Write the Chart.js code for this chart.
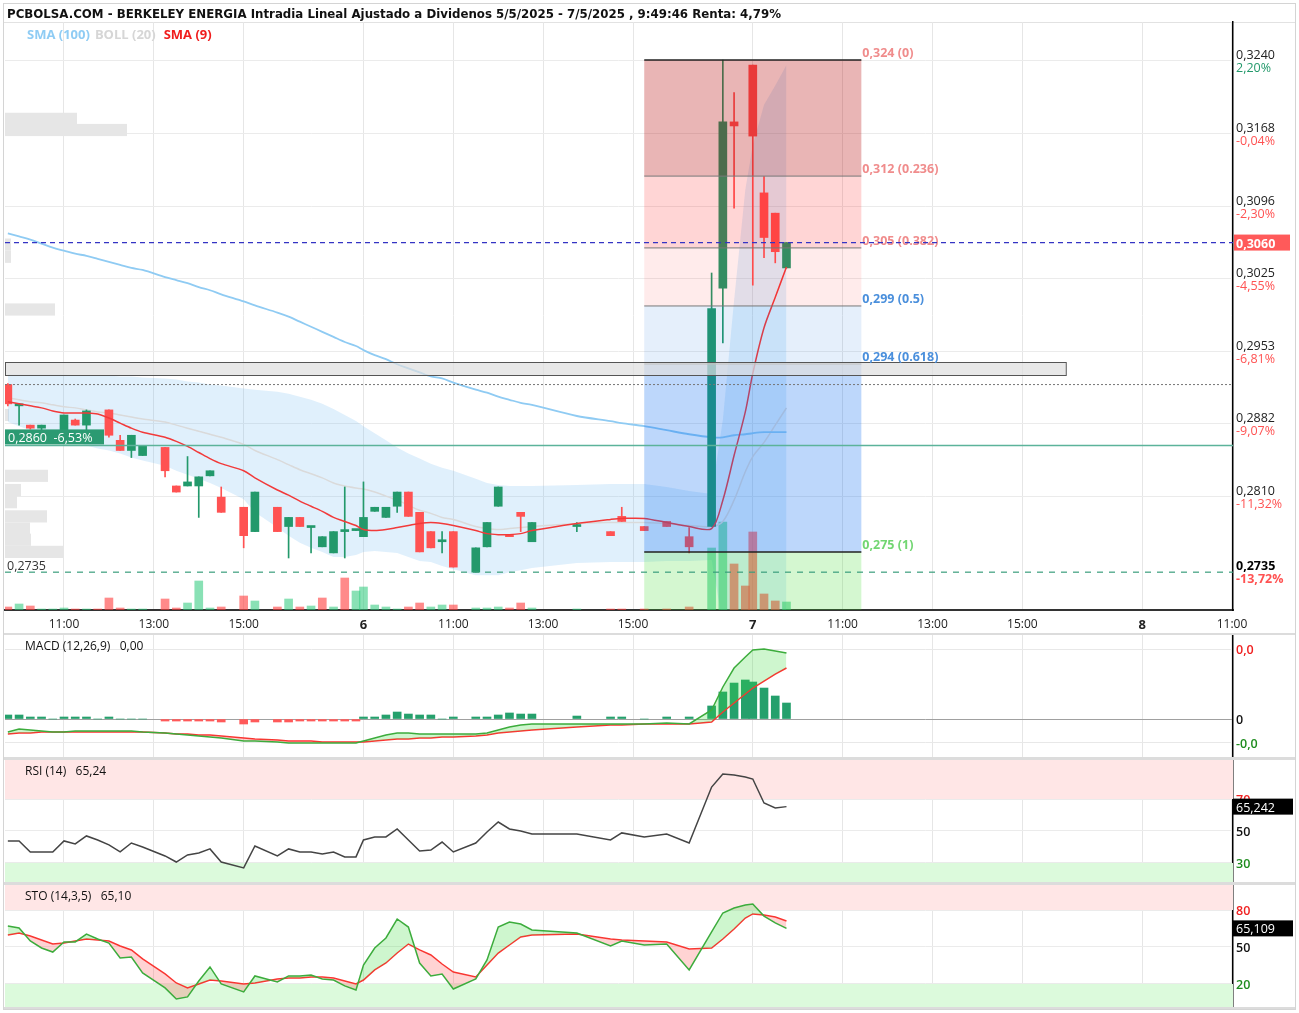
<!DOCTYPE html>
<html lang="es">
<head>
<meta charset="utf-8">
<title>Berkeley Energia intradía</title>
<script src="https://cdn.jsdelivr.net/npm/chart.js@4.4.1/dist/chart.umd.min.js"></script>
<style>
  body { margin: 0; background: #fff; font-family: 'Open Sans', sans-serif; }
  #lienzo { position: relative; width: 1299px; height: 1013px; overflow: hidden; }
  #lienzo canvas { position: absolute; left: 0; }
  .marco { position: absolute; left: 3px; top: 3px; width: 1291px; height: 1005px; border: 1px solid #d4d4d4; }
  .sep { position: absolute; left: 4px; width: 1291px; background: #dcdcdc; }
  .texto { position: absolute; white-space: pre; font-size: 12px; line-height: 16px; color: #111; z-index: 2; }
</style>
</head>
<body>
<div id="lienzo">
  <div class="marco"></div>
  <div class="texto" style="left:7px;top:6px;font-weight:bold;font-family:'DejaVu Sans',sans-serif;font-size:11.8px">PCBOLSA.COM - BERKELEY ENERGIA Intradia Lineal Ajustado a Dividenos 5/5/2025 - 7/5/2025 , 9:49:46 Renta: 4,79%</div>
  <div class="sep" style="top:22px;height:1px;background:#e2e2e2"></div>
  <canvas id="precio" width="1299" height="635" style="top:0"></canvas>
  <div class="texto" style="left:27px;top:26px;font-weight:bold;font-size:13px"><span style="color:#8fccf4;margin-right:5px">SMA (100)</span><span style="color:#d6d6d6;margin-right:8px">BOLL (20)</span><span style="color:#f01e1e">SMA (9)</span></div>
  <div class="sep" style="top:633px;height:2px"></div>
  <canvas id="macd" width="1299" height="122" style="top:635px"></canvas>
  <div class="texto" style="left:25px;top:638px">MACD (12,26,9)   0,00</div>
  <div class="sep" style="top:757px;height:3px"></div>
  <canvas id="rsi" width="1299" height="122" style="top:760px"></canvas>
  <div class="texto" style="left:25px;top:763px">RSI (14)   65,24</div>
  <div class="sep" style="top:882px;height:3px"></div>
  <canvas id="sto" width="1299" height="122" style="top:885px"></canvas>
  <div class="texto" style="left:25px;top:888px">STO (14,3,5)   65,10</div>
  <div class="sep" style="top:1007px;height:2px"></div>
</div>
<script>
// minutos de sesion (9:00-17:40, 520 min por dia) contados desde las 9:00 del dia 5
const tiempos = [45, 60, 75, 90, 105, 120, 135, 150, 165, 180,
  195, 210, 225, 255, 270, 285, 300, 315, 330, 360,
  375, 405, 420, 435, 450, 465, 480, 495, 510, 520,
  535, 550, 565, 580, 595, 610, 625, 640, 670, 685,
  700, 715, 730, 745, 805, 850, 865, 895, 925, 955,
  985, 1000, 1015, 1030, 1040, 1055, 1070, 1085];

const apertura = [.2920, .2899, .2880, .2877, .2865, .2872, .2885, .2880, .2870, .2895,
  .2865, .2855, .2850, .2858, .2820, .2820, .2820, .2830, .2809, .2799,
  .2775, .2799, .2780, .2789, .2779, .2760, .2754, .2775, .2776, .2770,
  .2795, .2789, .2800, .2814, .2794, .2775, .2765, .2775, .2735, .2760,
  .2800, .2772, .2794, .2765, .2780, .2775, .2790, .2780, .2785, .2770,
  .2780, .3015, .3179, null, .3235, .3109, .3089, .3035];
const maximo = [.2921, .2901, .2880, .2880, .2870, .2890, .2886, .2895, .2872, .2895,
  .2870, .2870, .2860, .2858, .2820, .2849, .2829, .2835, .2819, .2799,
  .2814, .2799, .2789, .2789, .2780, .2770, .2775, .2819, .2777, .2824,
  .2799, .2799, .2814, .2814, .2794, .2775, .2775, .2775, .2759, .2784,
  .2819, .2772, .2794, .2784, .2784, .2775, .2799, .2780, .2785, .2779,
  .3030, .3240, .3208, null, .3235, .3125, .3089, .3060];
const minimo = [.2899, .2880, .2876, .2875, .2862, .2870, .2880, .2870, .2862, .2868,
  .2855, .2848, .2850, .2829, .2814, .2820, .2789, .2830, .2794, .2759,
  .2775, .2775, .2749, .2780, .2754, .2760, .2754, .2749, .2776, .2770,
  .2795, .2789, .2794, .2790, .2755, .2759, .2754, .2740, .2735, .2760,
  .2800, .2770, .2775, .2765, .2775, .2771, .2785, .2776, .2780, .2754,
  .2780, .2961, .3094, null, .3018, .3045, .3040, .3035];
const cierre = [.2901, .2900, .2877, .2880, .2868, .2890, .2880, .2894, .2866, .2870,
  .2855, .2870, .2860, .2835, .2814, .2824, .2829, .2835, .2794, .2771,
  .2814, .2775, .2789, .2780, .2780, .2770, .2775, .2776, .2777, .2789,
  .2799, .2799, .2814, .2790, .2755, .2759, .2766, .2740, .2759, .2784,
  .2819, .2770, .2790, .2784, .2781, .2771, .2785, .2776, .2780, .2760,
  .2995, .3179, .3175, null, .3165, .3065, .3051, .3060];
// volumen en miles de titulos y si la barra es alcista (1) o bajista (0)
const volumen = [3, 6, 4, 1, 1, 2, 1, 1, 1, 12,
  2, 1, 1, 11, 2, 7, 29, 2, 3, 14,
  9, 3, 11, 3, 4, 12, 3, 32, 19, 23,
  5, 3, 1, 3, 7, 3, 5, 5, 2, 2,
  3, 2, 7, 2, 1, 1, 1, 1, 1, 3,
  62, 88, 46, 24, 78, 16, 9, 8];
const volAlcista = [0, 1, 0, 1, 1, 1, 0, 1, 0, 0,
  0, 1, 1, 0, 0, 1, 1, 1, 0, 0,
  1, 0, 1, 0, 1, 0, 1, 0, 1, 1,
  1, 1, 1, 0, 0, 1, 1, 0, 1, 1,
  1, 0, 0, 1, 1, 0, 0, 0, 0, 0,
  1, 1, 0, 0, 0, 0, 0, 1];

const sma9 = [.2903, .2901, .2899, .2897, .2894, .2892, .2892, .2892, .2891, .2887,
  .2882, .2877, .2873, .2868, .2864, .2859, .2853, .2847, .2842, .2835,
  .2828, .2816, .2811, .2805, .2800, .2795, .2789, .2785, .2781, .2777,
  .2776, .2777, .2779, .2781, .2783, .2784, .2783, .2781, .2776, .2773,
  .2772, .2772, .2773, .2776, .2783, .2787, .2788, .2788, .2784, .2780,
  .2778, .2806, .2850, .2893, .2931, .2976, .3006, .3036];
const sma100 = [.3069, .3066, .3063, .3059, .3055, .3052, .3049, .3047, .3044, .3041,
  .3038, .3035, .3033, .3026, .3023, .3020, .3016, .3013, .3009, .3002,
  .2998, .2991, .2987, .2982, .2977, .2972, .2967, .2962, .2958, .2954,
  .2949, .2945, .2940, .2936, .2932, .2928, .2926, .2922, .2915, .2912,
  .2908, .2905, .2902, .2900, .2889, .2884, .2882, .2879, .2875, .2871,
  .2868, .2868, .2870, .2871, .2872, .2873, .2873, .2873];
const bollMedia = [.2907, .2905, .2903, .2902, .2900, .2898, .2897, .2895, .2893, .2892,
  .2890, .2888, .2886, .2883, .2880, .2877, .2874, .2871, .2868, .2861,
  .2855, .2846, .2841, .2836, .2832, .2828, .2823, .2820, .2818, .2817,
  .2814, .2810, .2806, .2801, .2796, .2793, .2789, .2787, .2780, .2778,
  .2777, .2778, .2779, .2780, .2783, .2784, .2784, .2784, .2783, .2781,
  .2780, .2785, .2806, .2834, .2849, .2863, .2880, .2897];
const bollSup = [.2930, .2930, .2930, .2930, .2930, .2930, .2929, .2929, .2929, .2929,
  .2928, .2928, .2927, .2926, .2925, .2923, .2922, .2920, .2919, .2916,
  .2915, .2913, .2911, .2908, .2905, .2901, .2896, .2890, .2884, .2879,
  .2872, .2865, .2858, .2852, .2847, .2842, .2838, .2835, .2827, .2823,
  .2821, .2820, .2820, .2820, .2821, .2822, .2822, .2822, .2819, .2815,
  .2812, .2885, .3003, .3112, .3156, .3196, .3215, .3235];
const bollInf = [.2883, .2879, .2875, .2873, .2869, .2865, .2864, .2860, .2857, .2855,
  .2852, .2848, .2845, .2840, .2835, .2831, .2827, .2823, .2818, .2807,
  .2794, .2779, .2771, .2764, .2759, .2755, .2750, .2750, .2752, .2755,
  .2756, .2755, .2754, .2750, .2746, .2745, .2741, .2738, .2732, .2732,
  .2732, .2735, .2737, .2739, .2744, .2745, .2745, .2745, .2746, .2746,
  .2747, .2684, .2609, .2556, .2541, .2531, .2545, .2559];

const macd = [-.00149, -.00114, -.00126, -.00137, -.00149, -.00149, -.00137, -.00137, -.00137, -.00137,
  -.00137, -.00137, -.00149, -.00160, -.00171, -.00183, -.00194, -.00206, -.00217, -.00251,
  -.00251, -.00263, -.00274, -.00274, -.00274, -.00274, -.00274, -.00274, -.00274, -.00251,
  -.00217, -.00183, -.00160, -.00160, -.00171, -.00171, -.00171, -.00171, -.00171, -.00160,
  -.00126, -.00091, -.00069, -.00057, -.00057, -.00057, -.00057, -.00057, -.00046, -.00057,
  .00103, .00366, .00583, .00709, .00789, .00800, .00777, .00754];
const senal = [-.00171, -.00160, -.00160, -.00149, -.00149, -.00149, -.00149, -.00149, -.00149, -.00149,
  -.00149, -.00149, -.00149, -.00160, -.00171, -.00171, -.00183, -.00183, -.00194, -.00217,
  -.00229, -.00240, -.00251, -.00251, -.00251, -.00263, -.00263, -.00263, -.00263, -.00263,
  -.00251, -.00240, -.00229, -.00229, -.00217, -.00217, -.00206, -.00206, -.00194, -.00183,
  -.00160, -.00149, -.00137, -.00126, -.00091, -.00069, -.00069, -.00057, -.00057, -.00057,
  -.00034, .00080, .00183, .00286, .00354, .00434, .00514, .00583];
const histograma = [.00046, .00046, .00023, .00023, 0, .00023, .00023, .00023, 0, .00023,
  0, 0, 0, -.00023, -.00023, -.00023, -.00023, -.00023, -.00034, -.00057,
  -.00034, -.00034, -.00034, -.00023, -.00023, -.00023, -.00023, -.00023, -.00023, .00023,
  .00023, .00046, .00080, .00057, .00046, .00046, 0, .00023, .00023, .00023,
  .00046, .00069, .00057, .00057, .00034, .00023, .00023, 0, .00023, .00023,
  .00149, .00309, .00411, .00446, .00423, .00354, .00263, .00183];
const rsi = [43.8, 43.8, 36.9, 36.9, 36.9, 43.8, 41.9, 46.9, 44.4, 41.3,
  36.9, 42.5, 40.0, 34.4, 30.6, 35.0, 36.3, 38.8, 30.6, 26.9,
  40.6, 34.4, 38.8, 36.9, 36.9, 35.6, 36.9, 33.8, 33.8, 44.4,
  46.3, 46.3, 51.3, 44.4, 37.5, 38.1, 43.1, 36.9, 42.5, 49.4,
  55.6, 51.3, 50.0, 48.1, 48.1, 44.4, 48.8, 46.3, 48.1, 42.5,
  77.5, 85.6, 85.0, 83.8, 82.5, 67.5, 64.4, 65.24];
const stoK = [67.0, 65.4, 54.9, 49.2, 45.9, 54.1, 54.1, 60.5, 56.5, 53.2,
  41.1, 41.9, 28.9, 16.8, 7.8, 9.5, 22.4, 33.8, 20.0, 13.5,
  26.5, 21.6, 26.5, 26.5, 27.3, 24.1, 23.2, 18.4, 15.1, 35.4,
  49.2, 57.3, 72.7, 66.2, 37.0, 26.5, 28.1, 15.9, 24.1, 39.5,
  66.2, 70.3, 68.6, 63.8, 61.4, 50.8, 54.9, 51.6, 52.4, 31.4,
  62.2, 77.6, 81.6, 84.1, 84.9, 75.1, 69.5, 65.1];
const stoD = [59.7, 61.4, 58.9, 55.7, 52.4, 53.2, 54.9, 56.5, 55.7, 54.9,
  50.8, 47.6, 40.3, 28.1, 20.8, 16.8, 20.0, 23.2, 22.4, 20.0,
  20.8, 24.1, 24.9, 24.9, 25.7, 25.7, 24.9, 22.4, 20.0, 23.2,
  31.4, 37.0, 45.1, 52.4, 47.6, 43.5, 36.2, 29.7, 25.7, 35.4,
  45.1, 51.6, 58.1, 59.7, 60.5, 56.5, 55.7, 54.9, 54.1, 48.4,
  49.2, 56.5, 64.6, 73.5, 76.8, 75.9, 74.3, 71.1];

// perfil de volumen por precio (izquierda)
const perfilPrecio = [.3182, .3171, .3058, .3046, .2994, .2910, .2890, .2830, .2816, .2804, .2790, .2778, .2767, .2755];
const perfilVol = [72, 122, 6, 6, 50, 4, 4, 43, 16, 12, 42, 25, 26, 58];

// ejes
const xMarcas = [120, 240, 360, 520, 640, 760, 880, 1040, 1160, 1280, 1400, 1560, 1680];
const xEtiquetas = ['11:00', '13:00', '15:00', '6', '11:00', '13:00', '15:00', '7', '11:00', '13:00', '15:00', '8', '11:00'];
const marcasPrecio = [.3240, .3168, .3096, .3025, .2953, .2882, .2810];
const pctPrecio = ['2,20%', '-0,04%', '-2,30%', '-4,55%', '-6,81%', '-9,07%', '-11,32%'];
const marcasMacd = [.008, 0, -.00274];
const etiqMacd = ['0,0', '0', '-0,0'];
const marcasRsi = [70, 50, 30];
const marcasSto = [80, 50, 20];

// anotaciones
const fibAlto = .3240, fibBajo = .2755, fibDesde = 895, fibHasta = 1185;
const fibNiveles = [0, 0.236, 0.382, 0.5, 0.618, 1];
const cajaAlto = .2942, cajaBajo = .2929, cajaHasta = 1458;
const precioActual = .3060, precioRef = .2920, precioSoporte = .2860, precioMinimo = .2735;

const VERDE = '#23996b', ROJO = '#ff5252';
const FUENTE = "'Open Sans', sans-serif";
Chart.defaults.font.family = FUENTE;

const trazo = valores => tiempos.map((t, i) => ({x: t, y: valores[i]}));

function ejeX(conEtiquetas) {
  return {
    type: 'linear', min: 41.2, max: 1681.4, offset: false,
    afterBuildTicks: s => { s.ticks = xMarcas.map(v => ({value: v})); },
    ticks: {
      display: conEtiquetas, autoSkip: false, maxRotation: 0, padding: 7, color: '#222',
      callback: v => xEtiquetas[xMarcas.indexOf(v)],
      font: c => (c.tick && xEtiquetas[xMarcas.indexOf(c.tick.value)].length === 1)
        ? {size: 13, weight: 'bold'} : {size: 12}
    },
    grid: {color: '#e6e6e6', drawTicks: false, offset: false},
    border: {display: conEtiquetas, color: '#333', width: 2},
    afterFit: s => { s.height = conEtiquetas ? 25 : 0; }
  };
}

function ejeY(min, max, marcas, colorRejilla) {
  return {
    position: 'right', min: min, max: max,
    afterBuildTicks: s => { s.ticks = marcas.map(v => ({value: v})); },
    ticks: {display: false},
    grid: {color: colorRejilla || '#ebebeb', drawTicks: false},
    border: {display: true, color: '#000', width: 1.5},
    afterFit: s => { s.width = 66; }
  };
}

// Open Sans queda alta con textBaseline 'middle': bajamos 1.5 px
function texto(ctx, t, x, y, color, peso) {
  ctx.font = (peso || 'normal') + ' 12.5px ' + FUENTE;
  ctx.fillStyle = color;
  ctx.textAlign = 'left';
  ctx.textBaseline = 'middle';
  ctx.fillText(t, x, y + 1.5);
}

function lineaH(ctx, a, yy, color, ancho, guiones) {
  ctx.save();
  ctx.beginPath();
  ctx.rect(a.left, a.top, a.right - a.left, a.bottom - a.top);
  ctx.clip();
  ctx.strokeStyle = color;
  ctx.lineWidth = ancho;
  ctx.setLineDash(guiones || []);
  ctx.beginPath();
  ctx.moveTo(a.left, yy);
  ctx.lineTo(a.right, yy);
  ctx.stroke();
  ctx.restore();
}

const coma = (v, d) => v.toFixed(d).replace('.', ',');

const extrasPrecio = {
  id: 'extrasPrecio',
  beforeDatasetsDraw(chart) {
    const {ctx, chartArea: a, scales: {y}} = chart;
    ctx.save();
    ctx.fillStyle = '#e6e6e6';
    const maxVol = Math.max(...perfilVol);
    perfilPrecio.forEach((p, i) => {
      const y1 = y.getPixelForValue(p + 0.0006), y2 = y.getPixelForValue(p - 0.0006);
      ctx.fillRect(a.left, y1, perfilVol[i] / maxVol * 122, y2 - y1);
    });
    ctx.restore();
  },
  afterDatasetsDraw(chart) {
    const {ctx, chartArea: a, scales: {x, y}} = chart;
    ctx.save();
    ctx.beginPath();
    ctx.rect(a.left, a.top, a.right - a.left, a.bottom - a.top);
    ctx.clip();
    const x1 = x.getPixelForValue(fibDesde), x2 = x.getPixelForValue(fibHasta);
    const colores = ['rgba(180,0,0,0.29)', 'rgba(255,0,0,0.165)', 'rgba(255,0,0,0.08)',
      'rgba(0,100,220,0.1)', 'rgba(0,100,240,0.26)', 'rgba(60,220,40,0.22)'];
    const ys = fibNiveles.map(r => y.getPixelForValue(fibAlto - r * (fibAlto - fibBajo)));
    ys.forEach((yA, i) => {
      const yB = i < ys.length - 1 ? ys[i + 1] : a.bottom;
      ctx.fillStyle = colores[i];
      ctx.fillRect(x1, yA, x2 - x1, yB - yA);
    });
    ys.forEach((yy, i) => {
      ctx.strokeStyle = (i === 0 || i === ys.length - 1) ? '#222' : '#777';
      ctx.lineWidth = (i === 0 || i === ys.length - 1) ? 1.5 : 1;
      ctx.beginPath();
      ctx.moveTo(x1, yy);
      ctx.lineTo(x2, yy);
      ctx.stroke();
    });
    const yb1 = y.getPixelForValue(cajaAlto), yb2 = y.getPixelForValue(cajaBajo);
    const xb2 = x.getPixelForValue(cajaHasta);
    ctx.fillStyle = 'rgba(222,222,222,0.7)';
    ctx.fillRect(a.left, yb1, xb2 - a.left, yb2 - yb1);
    ctx.strokeStyle = '#555';
    ctx.lineWidth = 1;
    ctx.strokeRect(a.left + 0.5, Math.round(yb1) + 0.5, xb2 - a.left, Math.round(yb2 - yb1));
    ctx.restore();
  },
  afterDraw(chart) {
    const {ctx, chartArea: a, scales: {x, y}} = chart;
    ctx.save();
    marcasPrecio.forEach((p, i) => {
      const yy = y.getPixelForValue(p);
      texto(ctx, coma(p, 4), a.right + 3, yy - 6, '#222');
      texto(ctx, pctPrecio[i], a.right + 3, yy + 7, pctPrecio[i][0] === '-' ? ROJO : VERDE);
    });
    const x2 = x.getPixelForValue(fibHasta);
    fibNiveles.forEach(r => {
      const p = fibAlto - r * (fibAlto - fibBajo);
      const color = r < 0.5 ? '#f08c8c' : (r < 1 ? '#4a8fdc' : '#72d672');
      const t = coma(Math.floor(p * 1000 + 1e-9) / 1000, 3) + ' (' + r + ')';
      texto(ctx, t, x2 + 1, y.getPixelForValue(p) - 8, color, 'bold');
    });
    lineaH(ctx, a, y.getPixelForValue(precioActual), '#3434c4', 1.2, [5, 4]);
    lineaH(ctx, a, y.getPixelForValue(precioRef), '#777', 1, [2, 2]);
    lineaH(ctx, a, y.getPixelForValue(precioSoporte), '#5cb39a', 1.5);
    lineaH(ctx, a, y.getPixelForValue(precioMinimo), '#3a9d7c', 1.2, [6, 6]);

    const yAct = y.getPixelForValue(precioActual);
    ctx.fillStyle = '#ff5a5a';
    ctx.fillRect(a.right + 1, yAct - 8, 56, 16);
    texto(ctx, coma(precioActual, 4), a.right + 3, yAct, '#fff', 'bold');

    const ySop = y.getPixelForValue(precioSoporte);
    const pctSop = Math.trunc((precioSoporte / precioActual - 1) * 10000) / 100;
    ctx.fillStyle = '#2b9a72';
    ctx.fillRect(a.left, ySop - 16, 99, 15);
    texto(ctx, coma(precioSoporte, 4) + '  ' + coma(pctSop, 2) + '%', a.left + 3, ySop - 8.5, '#fff');

    const yMin = y.getPixelForValue(precioMinimo);
    texto(ctx, coma(precioMinimo, 4), a.left + 2, yMin - 7, '#333');
    texto(ctx, coma(precioMinimo, 4), a.right + 3, yMin - 7, '#000', 'bold');
    texto(ctx, '-13,72%', a.right + 3, yMin + 6, ROJO, 'bold');
    ctx.restore();
  }
};

const conVela = tiempos.map((t, i) => i).filter(i => apertura[i] !== null);
const colorVela = i => (cierre[i] >= apertura[i] ? VERDE : ROJO);

new Chart(document.getElementById('precio'), {
  type: 'bar',
  data: {
    datasets: [
      {type: 'line', order: 10, data: trazo(bollSup), borderWidth: 0, pointRadius: 0,
        fill: '+1', backgroundColor: 'rgba(100,180,240,0.2)'},
      {type: 'line', order: 10, data: trazo(bollInf), borderWidth: 0, pointRadius: 0, fill: false},
      {order: 9, yAxisID: 'yv', grouped: false, barThickness: 8, data: trazo(volumen),
        backgroundColor: volAlcista.map(v => (v ? 'rgba(40,200,120,0.55)' : 'rgba(255,60,60,0.6)'))},
      {type: 'line', order: 8, data: trazo(sma100), borderColor: '#8fcbf3', borderWidth: 1.8, pointRadius: 0, tension: 0.3},
      {type: 'line', order: 8, data: trazo(bollMedia), borderColor: '#dadada', borderWidth: 1.5, pointRadius: 0, tension: 0.3},
      {order: 6, grouped: false, barThickness: 1,
        data: conVela.map(i => ({x: tiempos[i], y: [minimo[i], maximo[i]]})),
        backgroundColor: conVela.map(colorVela)},
      {order: 5, grouped: false, barThickness: 8, minBarLength: 2,
        data: conVela.map(i => ({x: tiempos[i], y: [apertura[i], cierre[i]]})),
        backgroundColor: conVela.map(colorVela)},
      {type: 'line', order: 4, data: trazo(sma9), borderColor: '#f23a3a', borderWidth: 1.5, pointRadius: 0, tension: 0.3}
    ]
  },
  options: {
    responsive: false, animation: false, events: [],
    layout: {padding: {left: 5, top: 22, right: 0, bottom: 0}},
    plugins: {legend: {display: false}, tooltip: {enabled: false}},
    scales: {
      x: ejeX(true),
      y: ejeY(.26977, .32775, marcasPrecio),
      yv: {display: false, min: 0, max: 588}
    }
  },
  plugins: [extrasPrecio]
});

function etiquetasPanel(marcas, textos, colores, valor, textoValor) {
  return {
    id: 'etiquetas',
    afterDraw(chart) {
      const {ctx, chartArea: a, scales: {y}} = chart;
      ctx.save();
      marcas.forEach((m, i) => texto(ctx, textos[i], a.right + 3, y.getPixelForValue(m), colores[i], '600'));
      if (valor !== null) {
        const yy = y.getPixelForValue(valor);
        ctx.fillStyle = '#000';
        ctx.fillRect(a.right, yy - 8, 60, 16);
        texto(ctx, textoValor, a.right + 3, yy, '#fff');
      }
      ctx.restore();
    }
  };
}

function zonas(alto, bajo) {
  return {
    id: 'zonas',
    beforeDatasetsDraw(chart) {
      const {ctx, chartArea: a, scales: {y}} = chart;
      ctx.save();
      ctx.fillStyle = '#ffe6e6';
      ctx.fillRect(a.left, a.top, a.right - a.left, y.getPixelForValue(alto) - a.top);
      ctx.fillStyle = '#dcfadc';
      const yb = y.getPixelForValue(bajo);
      ctx.fillRect(a.left, yb, a.right - a.left, a.bottom - yb);
      ctx.restore();
    }
  };
}

const opcionesPanel = (yMin, yMax, marcas, colorRejilla) => ({
  responsive: false, animation: false, events: [],
  layout: {padding: {left: 5, top: 0, right: 0, bottom: 0}},
  plugins: {legend: {display: false}, tooltip: {enabled: false}},
  scales: {x: ejeX(false), y: ejeY(yMin, yMax, marcas, colorRejilla)}
});

new Chart(document.getElementById('macd'), {
  type: 'bar',
  data: {
    datasets: [
      {order: 3, grouped: false, barThickness: 8, data: trazo(histograma),
        backgroundColor: histograma.map(v => (v >= 0 ? '#25a06c' : '#ff5a5a'))},
      {type: 'line', order: 1, data: trazo(macd), borderColor: '#3cac3c', borderWidth: 1.5, pointRadius: 0,
        fill: {target: '+1', above: 'rgba(60,220,60,0.25)', below: 'rgba(255,80,80,0.25)'}},
      {type: 'line', order: 2, data: trazo(senal), borderColor: '#ff3030', borderWidth: 1.5, pointRadius: 0}
    ]
  },
  options: opcionesPanel(-.00434, .0096, marcasMacd, c => (c.tick && c.tick.value === 0 ? '#a0a0a0' : '#e8e8e8')),
  plugins: [etiquetasPanel(marcasMacd, etiqMacd, ['#f02020', '#111', '#1e8c1e'], null, '')]
});

new Chart(document.getElementById('rsi'), {
  type: 'line',
  data: {datasets: [{data: trazo(rsi), borderColor: '#444', borderWidth: 1.5, pointRadius: 0}]},
  options: opcionesPanel(18.1, 94.4, marcasRsi),
  plugins: [zonas(70, 30), etiquetasPanel(marcasRsi, ['70', '50', '30'], ['#f02020', '#111', '#1e8c1e'], rsi[rsi.length - 1], '65,242')]
});

new Chart(document.getElementById('sto'), {
  type: 'line',
  data: {
    datasets: [
      {data: trazo(stoK), borderColor: '#3cac3c', borderWidth: 1.5, pointRadius: 0,
        fill: {target: '+1', above: 'rgba(60,220,60,0.25)', below: 'rgba(255,80,80,0.25)'}},
      {data: trazo(stoD), borderColor: '#ff3030', borderWidth: 1.5, pointRadius: 0}
    ]
  },
  options: opcionesPanel(1.3, 100.3, marcasSto),
  plugins: [zonas(80, 20), etiquetasPanel(marcasSto, ['80', '50', '20'], ['#f02020', '#111', '#1e8c1e'], stoK[stoK.length - 1], '65,109')]
});
</script>
</body>
</html>
